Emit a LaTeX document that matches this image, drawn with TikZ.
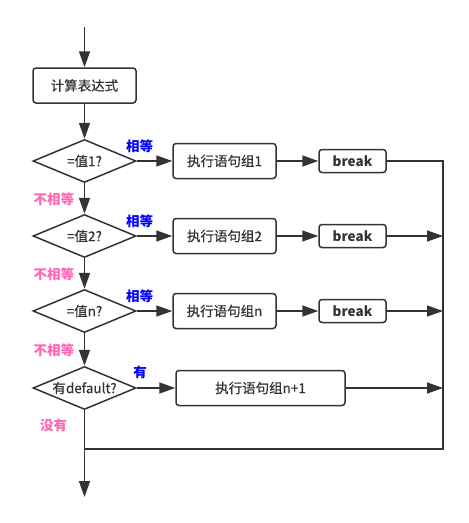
\documentclass[tikz,border=0pt]{standalone}
\usepackage{fontspec}
\setmainfont{Noto Sans CJK SC}
\newfontface\medface{Noto Sans CJK SC}[FakeBold=0.5]
\usetikzlibrary{shapes.geometric,arrows.meta}
\definecolor{linegray}{RGB}{51,51,51}
\definecolor{eqblue}{RGB}{0,0,255}
\definecolor{nepink}{RGB}{255,102,179}
\begin{document}
\begin{tikzpicture}[x=1pt,y=-1pt,line width=1.5pt,color=linegray,
    every node/.style={font=\fontsize{13.5}{15}\selectfont\medface},
    proc/.style={draw,rounded corners=3pt,minimum width=103pt,minimum height=35pt,inner sep=0pt},
    brk/.style={draw,rounded corners=3pt,minimum width=67pt,minimum height=23pt,inner sep=0pt,font=\fontsize{13.5}{15}\selectfont\bfseries},
    cond/.style={draw,diamond,aspect=2.4,minimum width=103pt,minimum height=43pt,inner sep=0pt},
    eqlabel/.style={text=eqblue,font=\fontsize{13.5}{15}\selectfont\bfseries},
    nelabel/.style={text=nepink,font=\fontsize{13.5}{15}\selectfont\bfseries},
    flow/.style={-{Triangle[length=16pt,width=11pt]}}]
  \useasboundingbox (0,0) rectangle (469,523);
  % main column
  \coordinate (start) at (84.5,27);
  \node[proc] (calc) at (84.5,85.5) {计算表达式};
  \node[cond] (d1) at (84.5,161) {=值1?};
  \node[cond] (d2) at (84.5,236) {=值2?};
  \node[cond] (d3) at (84.5,311) {=值n?};
  \node[cond,inner xsep=-6pt] (d4) at (84.5,388) {有default?};
  \coordinate (stop) at (84.5,497);
  % branches
  \node[proc] (g1) at (224.5,161) {执行语句组1};
  \node[proc] (g2) at (224.5,236) {执行语句组2};
  \node[proc] (g3) at (224.5,311) {执行语句组n};
  \node[proc,minimum width=169pt] (g4) at (260.5,388) {执行语句组n+1};
  \node[brk] (b1) at (352.5,161) {break};
  \node[brk] (b2) at (352.5,236) {break};
  \node[brk] (b3) at (352.5,311) {break};
  \coordinate (rtop) at (443,161);
  \coordinate (rbot) at (443,449);
  \coordinate (join) at (84.5,449);
  % labels
  \node[eqlabel] (eq1) at (139.5,146) {相等};
  \node[eqlabel] (eq2) at (139.5,221) {相等};
  \node[eqlabel] (eq3) at (139.5,296) {相等};
  \node[eqlabel] (has) at (140,372) {有};
  \node[nelabel] (ne1) at (54,199) {不相等};
  \node[nelabel] (ne2) at (54,274) {不相等};
  \node[nelabel] (ne3) at (54,350) {不相等};
  \node[nelabel] (none) at (53.5,425) {没有};
  % connectors
  \draw[flow] (start) -- (calc);
  \draw[flow] (calc) -- (d1);
  \draw[flow] (d1) -- (d2);
  \draw[flow] (d2) -- (d3);
  \draw[flow] (d3) -- (d4);
  \draw[flow] (d4) -- (stop);
  \draw[flow] (d1) -- (g1);
  \draw[flow] (d2) -- (g2);
  \draw[flow] (d3) -- (g3);
  \draw[flow] (d4) -- (g4);
  \draw[flow] (g1) -- (b1);
  \draw[flow] (g2) -- (b2);
  \draw[flow] (g3) -- (b3);
  \draw (b1) -- (rtop) -- (rbot) -- (join);
  \draw[flow] (b2) -- (b2 -| rtop);
  \draw[flow] (b3) -- (b3 -| rtop);
  \draw[flow] (g4) -- (g4 -| rtop);
\end{tikzpicture}
\end{document}
